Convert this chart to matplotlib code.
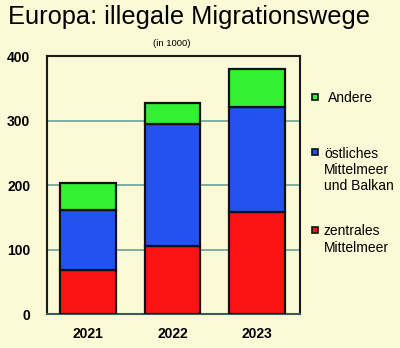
import numpy as np
import matplotlib.pyplot as plt
from matplotlib.patches import Rectangle

plt.rcParams['font.family'] = ['Liberation Sans', 'DejaVu Sans']

years = ['2021', '2022', '2023']
zentral = [68, 106, 158]
oestlich = [93, 189, 163]
andere = [42, 32, 59]

bg = '#fafad6'
c_red = '#fc1414'
c_blue = '#2452f0'
c_green = '#32f032'
grid_c = '#5f9a96'

fig = plt.figure(figsize=(4, 3.48), dpi=100, facecolor=bg)
ax = fig.add_axes([0.1175, 0.0977, 0.6325, 0.7413], facecolor=bg)

x = np.arange(len(years))
w = 0.66
bottom2 = np.array(zentral)
bottom3 = bottom2 + np.array(oestlich)
ax.bar(x, zentral, w, color=c_red, edgecolor='#111111', linewidth=1.6, zorder=3)
ax.bar(x, oestlich, w, bottom=bottom2, color=c_blue, edgecolor='#111111', linewidth=1.6, zorder=3)
ax.bar(x, andere, w, bottom=bottom3, color=c_green, edgecolor='#111111', linewidth=1.6, zorder=3)

ax.set_xlim(-0.485, 2.51)
ax.set_ylim(0, 400)
ax.set_yticks([0, 100, 200, 300, 400])
ax.set_xticks(x)
ax.set_xticklabels(years, fontweight='bold', fontsize=10)
ax.tick_params(axis='y', labelsize=10, length=0, pad=12)
ax.tick_params(axis='x', length=0, pad=9)
for lab in ax.get_yticklabels():
    lab.set_fontweight('bold')
ax.grid(axis='y', color=grid_c, linewidth=1.1, zorder=1)

for side in ['left', 'top', 'right']:
    ax.spines[side].set_color('#1a1a1a')
    ax.spines[side].set_linewidth(1.5)
ax.spines['bottom'].set_color('#3c5a58')
ax.spines['bottom'].set_linewidth(1.5)

fig.text(0.02, 0.95, 'Europa: illegale Migrationswege', fontsize=18.3, va='center', ha='left')
fig.text(0.43, 0.875, '(in 1000)', fontsize=6.8, va='center', ha='center')

# legend drawn by hand next to the bars
items = [(c_green, 'Andere', 0.722, 0.82),
         (c_blue, 'östliches\nMittelmeer\nund Balkan', 0.563, 0.81),
         (c_red, 'zentrales\nMittelmeer', 0.339, 0.81)]
for col, label, yc, xt in items:
    fig.patches.append(Rectangle((0.779, yc - 0.0085), 0.015, 0.017, transform=fig.transFigure,
                                 facecolor=col, edgecolor='#111111', linewidth=1.2))
    fig.text(xt, yc + 0.016, label, fontsize=10, va='top', ha='left', linespacing=1.2)

fig.savefig('out.png', dpi=100, facecolor=bg)
